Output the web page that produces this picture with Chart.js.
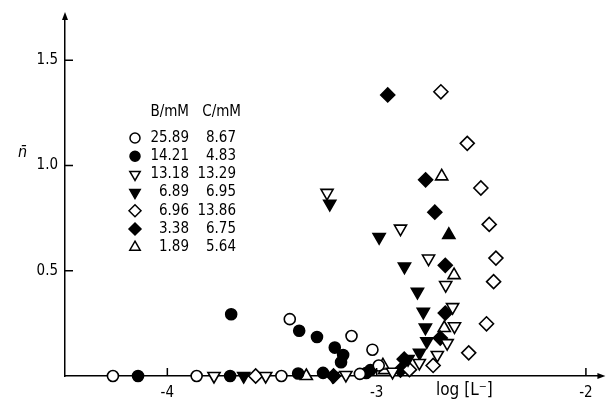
<!DOCTYPE html>
<html>
<head>
<meta charset="utf-8">
<script src="https://cdn.jsdelivr.net/npm/chart.js@4.4.0/dist/chart.umd.min.js"></script>
<style>
  html, body { margin: 0; padding: 0; background: #fff; }
  #wrap { position: relative; width: 610px; height: 405px; }
</style>
</head>
<body>
<div id="wrap"><canvas id="chart"></canvas></div>
<script>
// axis ticks
const xTicks = [-4, -3, -2];
const yTicks = [0.5, 1.0, 1.5];

// legend table: B/mM and C/mM for each series
const concB = ["25.89", "14.21", "13.18", "6.89", "6.96", "3.38", "1.89"];
const concC = ["8.67", "4.83", "13.29", "6.95", "13.86", "6.75", "5.64"];

// data: [log[L-], n]
const openCircle = [
  [-4.26, 0], [-3.86, 0], [-3.455, 0], [-3.415, 0.27], [-3.12, 0.19],
  [-3.02, 0.125], [-3.08, 0.01], [-2.99, 0.05]
];
const filledCircle = [
  [-4.14, 0], [-3.70, 0], [-3.695, 0.293], [-3.37, 0.215], [-3.285, 0.185],
  [-3.20, 0.135], [-3.16, 0.10], [-3.17, 0.065], [-3.375, 0.012],
  [-3.256, 0.015], [-3.05, 0.014], [-3.03, 0.028]
];
const openTriDown = [
  [-3.777, 0], [-3.53, 0], [-3.237, 0.87], [-3.147, 0.005], [-2.924, 0.02],
  [-2.886, 0.70], [-2.796, 0.062], [-2.752, 0.558], [-2.67, 0.432],
  [-2.637, 0.327], [-2.628, 0.236], [-2.663, 0.156], [-2.71, 0.10]
];
const filledTriDown = [
  [-3.635, 0], [-3.21, 0], [-3.224, 0.818], [-2.988, 0.66], [-2.867, 0.52],
  [-2.805, 0.40], [-2.777, 0.305], [-2.767, 0.23], [-2.76, 0.165],
  [-2.795, 0.11], [-2.85, 0.08]
];
const openDiamond = [
  [-3.578, 0], [-2.693, 1.35], [-2.567, 1.105], [-2.502, 0.893], [-2.462, 0.72],
  [-2.43, 0.56], [-2.441, 0.448], [-2.475, 0.248], [-2.56, 0.11],
  [-2.73, 0.05], [-2.843, 0.03]
];
const filledDiamond = [
  [-2.947, 1.335], [-2.766, 0.932], [-2.722, 0.778], [-2.672, 0.526],
  [-2.672, 0.299], [-2.696, 0.18], [-2.868, 0.08], [-3.206, 0], [-2.886, 0.028]
];
const openTriUp = [
  [-2.689, 0.948], [-2.63, 0.479], [-2.677, 0.228], [-3.336, 0],
  [-2.962, 0.028], [-2.97, 0.05]
];
const filledTriUp = [[-2.655, 0.67]];

const FONT = "'DejaVu Sans Condensed', 'DejaVu Sans', sans-serif";

function series(points, style, filled, rotation, radius) {
  return {
    data: points.map(p => ({ x: p[0], y: p[1] })),
    pointStyle: style,
    rotation: rotation,
    pointRadius: radius,
    pointBackgroundColor: filled ? "#000" : "#fff",
    pointBorderColor: "#000",
    pointBorderWidth: 1.6,
    clip: false
  };
}

const datasets = [
  series(openCircle, "circle", false, 0, 5.5),
  series(filledCircle, "circle", true, 0, 5.5),
  series(openTriDown, "triangle", false, 180, 7),
  series(filledTriDown, "triangle", true, 180, 7),
  series(openDiamond, "rectRot", false, 0, 7),
  series(filledDiamond, "rectRot", true, 0, 7),
  series(openTriUp, "triangle", false, 0, 7),
  series(filledTriUp, "triangle", true, 0, 7)
];

const decor = {
  id: "decor",
  afterDraw(chart) {
    const { ctx, chartArea: a, scales: { x, y } } = chart;
    ctx.save();
    ctx.strokeStyle = "#000";
    ctx.fillStyle = "#000";
    ctx.lineWidth = 1.5;

    // inward tick marks
    ctx.beginPath();
    xTicks.forEach(v => {
      const px = x.getPixelForValue(v);
      ctx.moveTo(px, a.bottom);
      ctx.lineTo(px, a.bottom - 8);
    });
    yTicks.forEach(v => {
      const py = y.getPixelForValue(v);
      ctx.moveTo(a.left, py);
      ctx.lineTo(a.left + 8, py);
    });
    ctx.stroke();

    // arrow heads
    ctx.beginPath();
    ctx.moveTo(a.right + 4, a.bottom);
    ctx.lineTo(a.right - 4, a.bottom - 3);
    ctx.lineTo(a.right - 4, a.bottom + 3);
    ctx.closePath();
    ctx.moveTo(a.left, a.top - 4);
    ctx.lineTo(a.left - 3, a.top + 4);
    ctx.lineTo(a.left + 3, a.top + 4);
    ctx.closePath();
    ctx.fill();

    // axis titles
    ctx.textBaseline = "middle";
    ctx.textAlign = "left";
    ctx.font = "italic 16px " + FONT;
    ctx.fillText("n\u0304", 18, 153);
    ctx.font = "17px " + FONT;
    ctx.fillText("log [L\u207B]", 436, 391);

    // legend table
    ctx.font = "15px " + FONT;
    ctx.textAlign = "right";
    ctx.fillText("B/mM", 189, 112);
    ctx.fillText("C/mM", 241, 112);
    const rowY0 = 138, rowStep = 18.2;
    for (let i = 0; i < concB.length; i++) {
      const ds = datasets[i];
      const ry = rowY0 + i * rowStep;
      ctx.fillStyle = ds.pointBackgroundColor;
      ctx.strokeStyle = "#000";
      ctx.lineWidth = 1.5;
      Chart.helpers.drawPoint(ctx, {
        pointStyle: ds.pointStyle,
        rotation: ds.rotation,
        radius: ds.pointStyle === "circle" ? 5 : 6,
        borderWidth: 1.5
      }, 135, ry);
      ctx.fillStyle = "#000";
      ctx.fillText(concB[i], 189, ry);
      ctx.fillText(concC[i], 236, ry);
    }
    ctx.restore();
  }
};

new Chart(document.getElementById("chart"), {
  type: "scatter",
  data: { datasets },
  options: {
    responsive: true,
    maintainAspectRatio: false,
    animation: false,
    events: [],
    layout: { padding: { top: 15, right: 5, left: 0, bottom: 0 } },
    plugins: { legend: { display: false }, tooltip: { enabled: false } },
    scales: {
      x: {
        type: "linear",
        min: -4.489,
        max: -1.926,
        afterBuildTicks: s => { s.ticks = xTicks.map(v => ({ value: v })); },
        afterFit: s => { s.height = 29; },
        grid: { display: false, drawTicks: false },
        border: { display: true, color: "#000", width: 1.5 },
        ticks: {
          color: "#000",
          padding: 8,
          maxRotation: 0,
          font: { family: FONT, size: 15 },
          callback: v => String(v)
        }
      },
      y: {
        type: "linear",
        min: 0,
        max: 1.71,
        afterBuildTicks: s => { s.ticks = yTicks.map(v => ({ value: v })); },
        afterFit: s => { s.width = 65; },
        grid: { display: false, drawTicks: false },
        border: { display: true, color: "#000", width: 1.5 },
        ticks: {
          color: "#000",
          padding: 7,
          font: { family: FONT, size: 15 },
          callback: v => v.toFixed(1)
        }
      }
    }
  },
  plugins: [decor]
});
</script>
</body>
</html>
